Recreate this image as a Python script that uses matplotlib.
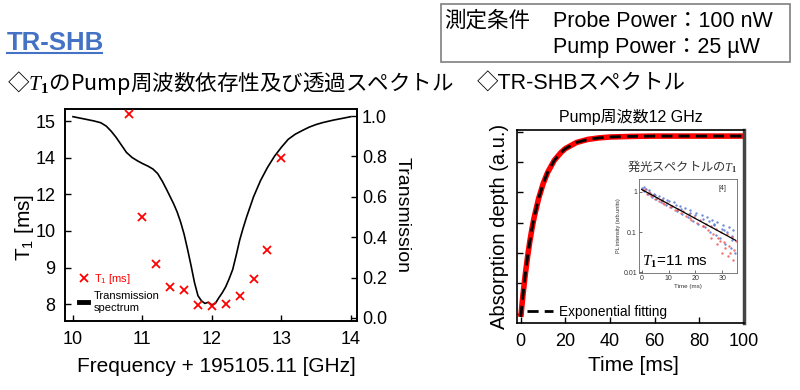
import numpy as np
import matplotlib
matplotlib.use('Agg')
import matplotlib.pyplot as plt
from matplotlib.lines import Line2D
from matplotlib.patches import Rectangle

plt.rcParams['font.family'] = ['Liberation Sans', 'Noto Sans CJK JP', 'DejaVu Sans']
plt.rcParams['mathtext.fontset'] = 'custom'
plt.rcParams['mathtext.rm'] = 'Liberation Serif'
plt.rcParams['mathtext.it'] = 'Liberation Serif:italic'
plt.rcParams['mathtext.bf'] = 'Liberation Serif:bold'
plt.rcParams['mathtext.sf'] = 'Liberation Sans'
JP = 'Noto Sans CJK JP'

# --- データ ---
# T1 のポンプ周波数依存性
pump_freq = [10.8, 11.0, 11.2, 11.4, 11.6, 11.8, 12.0, 12.2, 12.4, 12.6, 12.8, 13.0]
t1_ms = [15.2, 10.76, 9.09, 8.47, 8.38, 7.97, 7.95, 8.0, 8.22, 8.68, 9.47, 13.98]

# 透過スペクトル
spec_freq = [10.0, 10.1, 10.2, 10.3, 10.4, 10.48, 10.55, 10.62, 10.7, 10.77, 10.85, 10.93,
             11.0, 11.08, 11.15, 11.22, 11.29, 11.35, 11.4, 11.45, 11.5, 11.55, 11.6, 11.65,
             11.7, 11.75, 11.8, 11.85, 11.9, 11.95, 12.0, 12.05, 12.1, 12.15, 12.2, 12.25,
             12.3, 12.35, 12.4, 12.45, 12.5, 12.6, 12.7, 12.8, 12.9, 13.0, 13.1, 13.2, 13.3,
             13.4, 13.5, 13.6, 13.75, 13.9, 14.0]
spec_trans = [0.997, 0.99, 0.983, 0.976, 0.967, 0.95, 0.925, 0.895, 0.855, 0.82, 0.795, 0.778,
              0.765, 0.752, 0.738, 0.715, 0.675, 0.635, 0.6, 0.565, 0.525, 0.475, 0.415, 0.34,
              0.26, 0.175, 0.11, 0.085, 0.072, 0.078, 0.065, 0.072, 0.10, 0.125, 0.155, 0.195,
              0.24, 0.31, 0.385, 0.445, 0.5, 0.6, 0.68, 0.745, 0.80, 0.845, 0.885, 0.91, 0.928,
              0.945, 0.958, 0.968, 0.98, 0.99, 0.997]

# 左軸の目盛り (不等間隔)
t1_ticks = [8, 9, 10, 12, 14, 15]

# TR-SHB スペクトル (Pump 12 GHz)
shb_time = [0, 1, 2, 3, 4, 5, 6, 8, 10, 12, 15, 18, 20, 25, 30, 35, 40, 50, 60, 80, 100]
shb_depth = [-0.10, 0.64, 1.29, 1.86, 2.36, 2.80, 3.18, 3.80, 4.28, 4.65, 5.05, 5.31, 5.44,
             5.64, 5.74, 5.79, 5.82, 5.84, 5.85, 5.85, 5.85]

# 挿入図: 発光スペクトルの T1
pl_fit_time = [0, 35]
pl_fit_int = [1.15, 0.062]
blue_t = [0.3, 0.8, 1.5, 2.2, 3.0, 3.8, 4.5, 5.5, 6.3, 7.2, 8.0, 9.1, 10.2, 11.0, 12.1, 13.3,
          14.2, 15.0, 16.1, 17.3, 18.0, 19.2, 20.4, 21.1, 22.3, 23.5, 24.2, 25.4, 26.3, 27.5,
          28.1, 29.2, 30.3, 31.1, 32.4, 33.2, 34.0, 34.8, 1.0, 5.0, 9.5, 14.8, 19.8, 24.9,
          29.8, 33.8, 27.0, 31.8, 2.8, 7.7, 12.8, 17.9, 22.8, 26.8, 30.8, 33.5]
blue_y = [1.25, 1.05, 1.2, 0.9, 0.95, 0.75, 0.9, 0.65, 0.8, 0.55, 0.7, 0.48, 0.6, 0.42, 0.55,
          0.33, 0.45, 0.28, 0.4, 0.24, 0.36, 0.19, 0.3, 0.16, 0.27, 0.13, 0.24, 0.1, 0.2, 0.085,
          0.18, 0.07, 0.15, 0.05, 0.13, 0.04, 0.11, 0.03, 1.3, 0.85, 0.62, 0.38, 0.26, 0.19,
          0.12, 0.08, 0.15, 0.1, 1.1, 0.62, 0.46, 0.29, 0.21, 0.16, 0.11, 0.065]
red_t = [0.5, 1.2, 1.9, 2.6, 3.4, 4.1, 4.9, 5.8, 6.6, 7.5, 8.4, 9.4, 10.5, 11.4, 12.5, 13.6,
         14.5, 15.5, 16.6, 17.6, 18.5, 19.6, 20.7, 21.6, 22.7, 23.8, 24.6, 25.7, 26.7, 27.8,
         28.6, 29.7, 30.6, 31.6, 32.7, 33.5, 34.3, 35.0, 30.0, 32.0, 34.0, 28.0, 26.0, 3.0,
         8.0, 13.0, 18.0, 23.0, 29.0, 31.0, 33.0]
red_y = [1.1, 1.15, 0.88, 0.98, 0.78, 0.85, 0.68, 0.72, 0.6, 0.62, 0.5, 0.52, 0.42, 0.45, 0.36,
         0.38, 0.3, 0.33, 0.25, 0.28, 0.2, 0.24, 0.17, 0.2, 0.14, 0.16, 0.11, 0.14, 0.09, 0.12,
         0.07, 0.1, 0.055, 0.09, 0.045, 0.075, 0.035, 0.06, 0.03, 0.025, 0.02, 0.05, 0.07, 0.9,
         0.53, 0.35, 0.23, 0.14, 0.06, 0.04, 0.03]

W, H = 800, 390
fig = plt.figure(figsize=(W / 100, H / 100), dpi=100)


def px(x0, y0, x1, y1):
    return [x0 / W, 1 - y1 / H, (x1 - x0) / W, (y1 - y0) / H]


def fxy(x, y):
    return x / W, 1 - y / H


# --- 見出し ---
fig.text(*fxy(7, 50), 'TR-SHB', fontsize=18.5, fontweight='bold', color='#4472C4', va='baseline')
fig.add_artist(Line2D([7 / W, 102 / W], [1 - 53 / H, 1 - 53 / H], color='#4472C4', lw=1.5))
fig.text(*fxy(7, 90), '◇$T_{\\mathbf{1}}$のPump周波数依存性及び透過スペクトル', fontsize=15.5,
         va='baseline', family=JP)
fig.text(*fxy(477, 90), '◇TR-SHBスペクトル', fontsize=15.5, va='baseline')

fig.add_artist(Rectangle(fxy(441, 62), 349 / W, 58 / H, transform=fig.transFigure,
                         fill=False, edgecolor='#7f7f7f', lw=1.2))
fig.text(*fxy(444, 27), '測定条件', fontsize=15.5, va='baseline')
fig.text(*fxy(553, 27), 'Probe Power：100 nW', fontsize=15.5, va='baseline')
fig.text(*fxy(553, 53), 'Pump Power：25 µW', fontsize=15.5, va='baseline')

# --- 左: T1 と透過スペクトル ---
knots_v = [0, 8, 9, 10, 12, 14, 15, 30]
knots_p = [-8, 0, 1, 2, 3, 4, 5, 20]


def fwd(v):
    return np.interp(v, knots_v, knots_p)


def inv(p):
    return np.interp(p, knots_p, knots_v)


ax = fig.add_axes(px(65, 109, 357, 321))
ax.set_yscale('function', functions=(fwd, inv))
ax.set_ylim(inv(-0.46), inv(5.33))
ax.set_yticks(t1_ticks)
ax.set_yticklabels([str(t) for t in t1_ticks])
ax.set_xlim(9.885, 14.09)
ax.set_xticks([10, 11, 12, 13, 14])
ax.minorticks_off()

ax2 = ax.twinx()
ax2.plot(spec_freq, spec_trans, color='black', lw=1.2)
ax2.set_ylim(-0.015, 1.035)
ax2.set_yticks([0, 0.2, 0.4, 0.6, 0.8, 1.0])
ax2.set_yticklabels(['0.0', '0.2', '0.4', '0.6', '0.8', '1.0'])
ax2.set_ylabel('Transmission', fontsize=14, rotation=270, labelpad=17)

ax.plot(pump_freq, t1_ms, ls='none', marker='x', color='red', ms=5.5, mew=1.3, zorder=5)
ax.set_zorder(ax2.get_zorder() + 1)
ax.patch.set_visible(False)

for a in (ax, ax2):
    a.tick_params(direction='in', labelsize=13, length=4, width=1)
    for s in a.spines.values():
        s.set_linewidth(1.2)
ax.tick_params(axis='both', pad=7)
ax.set_ylabel('T$_{\\mathsf{1}}$ [ms]', fontsize=15)
ax.yaxis.set_label_coords(-0.1, 0.44)
ax.set_xlabel('Frequency + 195105.11 [GHz]', fontsize=15)
ax.xaxis.set_label_coords(0.517, -0.168)

handles = [Line2D([], [], ls='none', marker='x', color='red', ms=5.5, mew=1.3),
           Line2D([], [], color='black', lw=3.5)]
leg = ax.legend(handles, ['T$_{\\mathsf{1}}$ [ms]', 'Transmission\nspectrum'], loc='lower left',
                bbox_to_anchor=(0.03, 0.012), frameon=False, fontsize=8, handlelength=0.8,
                handletextpad=0.5, borderpad=0, labelspacing=0.5)
leg.get_texts()[0].set_color('red')

# --- 右: TR-SHB スペクトル ---
bx = fig.add_axes(px(517, 130, 744, 323))
bx.plot(shb_time, shb_depth, color='red', lw=4, solid_capstyle='butt')
bx.plot(shb_time, shb_depth, color='black', lw=2, ls=(0, (4, 2.2)))
bx.set_xlim(-1.7, 100)
bx.set_ylim(-0.3, 6.05)
bx.set_xticks([0, 20, 40, 60, 80, 100])
bx.set_yticks(range(7))
bx.set_yticklabels([])
bx.tick_params(direction='in', labelsize=13, length=4, width=1, pad=7)
for s in bx.spines.values():
    s.set_linewidth(1.2)
bx.spines['right'].set_linewidth(2.5)
bx.spines['right'].set_color('#444444')
bx.set_title('Pump周波数12 GHz', fontsize=11.5, pad=6)
bx.set_xlabel('Time [ms]', fontsize=15)
bx.xaxis.set_label_coords(0.515, -0.172)
bx.set_ylabel('Absorption depth (a.u.)', fontsize=14.5)
bx.yaxis.set_label_coords(-0.035, 0.5)
bx.legend([Line2D([], [], color='black', lw=2, ls=(0, (4, 2.2)))], ['Exponential fitting'],
          loc='lower left', bbox_to_anchor=(0.045, 0.02), frameon=False, fontsize=9.8,
          handlelength=1.9, handletextpad=0.4, borderpad=0, borderaxespad=0)

# --- 挿入図 ---
ix = fig.add_axes(px(639, 179, 737, 273))
ix.scatter(blue_t, blue_y, s=3, color='#4a6fd0', alpha=0.8, lw=0)
ix.scatter(red_t, red_y, s=3, color='#f05050', alpha=0.8, lw=0)
ix.plot(pl_fit_time, pl_fit_int, color='black', lw=0.9)
ix.set_yscale('log')
ix.set_xlim(-1, 35.5)
ix.set_ylim(0.0095, 2.1)
ix.set_xticks([0, 10, 20, 30])
ix.set_yticks([0.01, 0.1, 1])
ix.set_yticklabels(['0.01', '0.1', '1'])
ix.minorticks_off()
ix.tick_params(direction='in', labelsize=5, length=2, width=0.5, pad=1.5, colors='#333333')
for s in ix.spines.values():
    s.set_linewidth(0.6)
    s.set_color('#666666')
ix.set_xlabel('Time (ms)', fontsize=4.5, labelpad=1.5, color='#333333')
ix.set_ylabel('PL intensity (arb.units)', fontsize=4, labelpad=1.5, color='#333333')
ix.text(0.85, 0.9, '[4]', transform=ix.transAxes, fontsize=5, ha='center', va='center',
        color='#333333')
ix.text(0.37, 0.12, '$T_{\\mathbf{1}}$=11 ms', transform=ix.transAxes, fontsize=11,
        ha='center', va='center')
fig.text(*fxy(737, 171), '発光スペクトルの$T_{\\mathbf{1}}$', fontsize=8.8, ha='right',
         va='baseline', color='#333333', family=JP)

fig.savefig('out.png', dpi=100)
